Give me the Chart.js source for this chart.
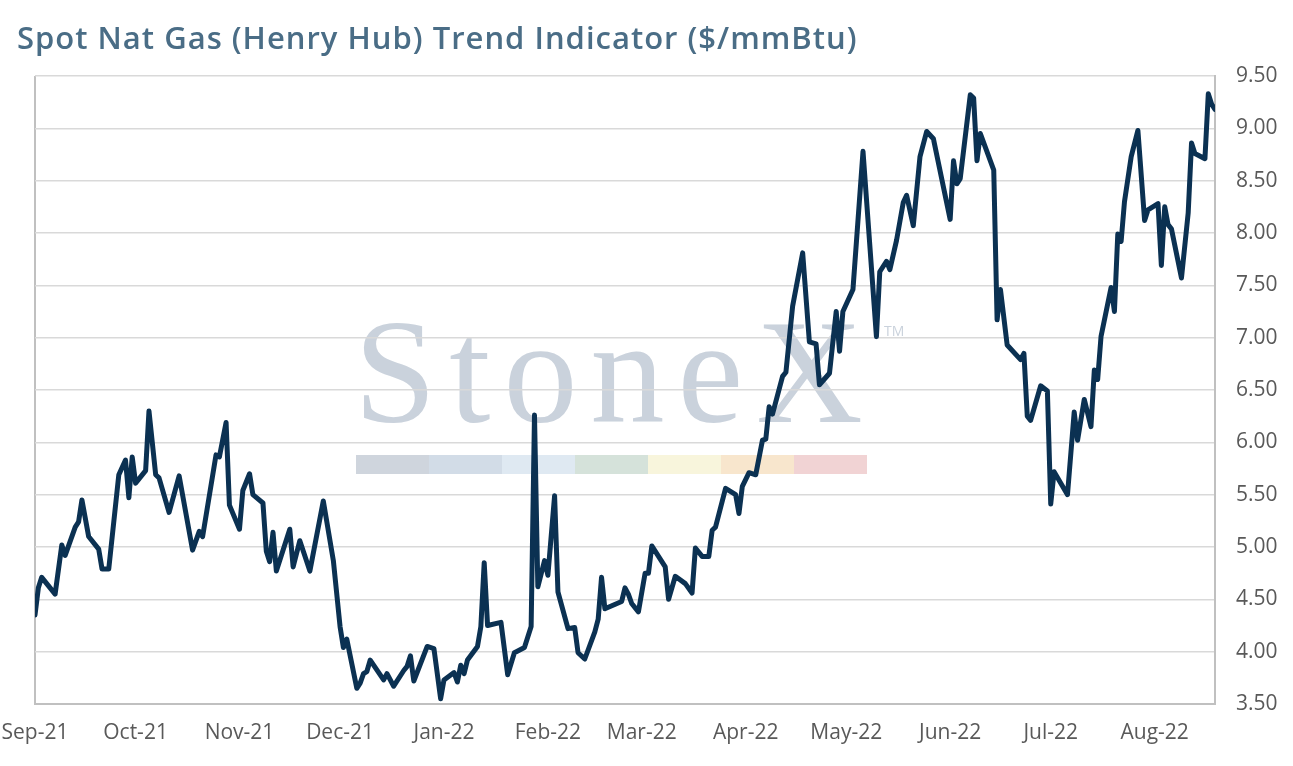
<!DOCTYPE html>
<html>
<head>
<meta charset="utf-8">
<title>Spot Nat Gas (Henry Hub) Trend Indicator</title>
<script src="https://cdn.jsdelivr.net/npm/chart.js@4.4.1/dist/chart.umd.min.js"></script>
<style>
    html, body { margin: 0; padding: 0; background: #fff; }
    #wrap { position: relative; width: 1293px; height: 766px; }
    #gasChart { position: absolute; left: 0; top: 0; }
    #title {
        position: absolute; left: 17px; top: 16px;
        font: 600 31px "Open Sans", sans-serif;
        letter-spacing: 1px; line-height: normal;
        color: #4a6d86; white-space: nowrap;
    }
</style>
</head>
<body>
<div id="wrap">
    <canvas id="gasChart" width="1293" height="766"></canvas>
    <div id="title">Spot Nat Gas (Henry Hub) Trend Indicator ($/mmBtu)</div>
</div>
<script>
// days counted from 1 Sep 2021
const days = [
    0, 1, 2, 6, 8, 9, 12, 13, 14, 16, 19, 20, 22, 25, 27, 28, 29, 30, 33, 34,
    36, 37, 40, 43, 47, 49, 50, 54, 55, 57, 58, 61, 62, 64, 65, 68, 69, 70, 71, 72,
    76, 77, 79, 82, 86, 89, 91, 92, 93, 96, 97, 98, 99, 100, 104, 105, 107, 110, 111, 112,
    113, 117, 119, 121, 122, 125, 126, 127, 128, 129, 132, 133, 134, 135, 139, 141, 143, 146, 148, 149,
    150, 152, 153, 155, 156, 159, 161, 162, 164, 167, 168, 169, 170, 175, 176, 177, 178, 180, 182, 183,
    184, 188, 189, 191, 194, 196, 197, 199, 201, 202, 203, 206, 209, 210, 211, 213, 215, 217, 218, 219,
    220, 223, 224, 226, 229, 231, 233, 234, 237, 239, 240, 241, 244, 247, 251, 252, 254, 255, 257, 259,
    260, 262, 264, 266, 268, 273, 274, 275, 276, 279, 280, 281, 282, 286, 287, 288, 290, 294, 295, 296,
    297, 300, 302, 303, 304, 308, 310, 311, 313, 315, 316, 317, 318, 321, 322, 323, 324, 325, 327, 329,
    331, 332, 335, 336, 337, 338, 339, 342, 344, 345, 346, 349, 350, 351, 352
];
const prices = [
    4.35, 4.61, 4.71, 4.55, 5.02, 4.92, 5.19, 5.24, 5.45, 5.10, 4.98, 4.79, 4.79, 5.69, 5.83, 5.47, 5.86, 5.61, 5.73, 6.30,
    5.69, 5.66, 5.33, 5.68, 4.97, 5.15, 5.10, 5.88, 5.86, 6.19, 5.40, 5.17, 5.54, 5.70, 5.50, 5.42, 4.96, 4.86, 5.14, 4.77,
    5.17, 4.81, 5.06, 4.77, 5.44, 4.87, 4.24, 4.04, 4.12, 3.65, 3.70, 3.79, 3.81, 3.92, 3.73, 3.79, 3.67, 3.82, 3.86, 3.96,
    3.72, 4.05, 4.03, 3.55, 3.73, 3.80, 3.71, 3.87, 3.79, 3.92, 4.05, 4.24, 4.85, 4.25, 4.28, 3.78, 3.99, 4.04, 4.24, 6.26,
    4.62, 4.87, 4.73, 5.49, 4.57, 4.22, 4.23, 3.99, 3.93, 4.19, 4.31, 4.71, 4.41, 4.48, 4.61, 4.55, 4.46, 4.38, 4.75, 4.75,
    5.01, 4.81, 4.50, 4.72, 4.65, 4.56, 4.99, 4.91, 4.91, 5.16, 5.19, 5.56, 5.50, 5.32, 5.58, 5.71, 5.69, 6.02, 6.03, 6.34,
    6.27, 6.63, 6.67, 7.30, 7.81, 6.96, 6.94, 6.55, 6.66, 7.25, 6.87, 7.25, 7.46, 8.78, 7.01, 7.63, 7.73, 7.65, 7.93, 8.29,
    8.36, 8.07, 8.73, 8.97, 8.90, 8.13, 8.69, 8.47, 8.52, 9.32, 9.29, 8.69, 8.95, 8.60, 7.17, 7.46, 6.93, 6.79, 6.85, 6.25,
    6.21, 6.54, 6.49, 5.41, 5.72, 5.50, 6.29, 6.02, 6.41, 6.15, 6.69, 6.60, 7.01, 7.48, 7.25, 7.99, 7.92, 8.30, 8.73, 8.98,
    8.12, 8.22, 8.28, 7.69, 8.25, 8.08, 8.04, 7.57, 8.19, 8.86, 8.76, 8.71, 9.33, 9.23, 9.18
];

const monthDays = [0, 30, 61, 91, 122, 153, 181, 212, 242, 273, 303, 334];
const monthLabels = ['Sep-21', 'Oct-21', 'Nov-21', 'Dec-21', 'Jan-22', 'Feb-22',
    'Mar-22', 'Apr-22', 'May-22', 'Jun-22', 'Jul-22', 'Aug-22'];

const bandColors = ['#cfd5dd', '#d2dce7', '#dfe9f2', '#d5e2da', '#f8f5dc', '#f8e6cd', '#f1d3d4'];

// faint logo behind the chart
const watermark = {
    id: 'watermark',
    beforeDraw(chart) {
        const { ctx } = chart;
        ctx.save();
        ctx.fillStyle = '#cad2dc';
        ctx.font = '148px "Liberation Serif", serif';
        ctx.letterSpacing = '13px';
        ctx.textBaseline = 'alphabetic';
        ctx.fillText('StoneX', 354, 422);
        ctx.letterSpacing = '0px';
        ctx.font = '14px "Open Sans", sans-serif';
        ctx.fillText('TM', 884, 336);
        bandColors.forEach((c, i) => {
            ctx.fillStyle = c;
            ctx.fillRect(356 + i * 73, 455, 73, 19);
        });
        ctx.restore();
    }
};

const points = days.map((d, i) => ({ x: d, y: prices[i] }));

new Chart(document.getElementById('gasChart'), {
    type: 'line',
    data: {
        datasets: [{
            data: points,
            borderColor: '#0b3152',
            borderWidth: 5,
            borderJoinStyle: 'round',
            borderCapStyle: 'round',
            pointRadius: 0,
            tension: 0,
            fill: false
        }]
    },
    options: {
        responsive: false,
        animation: false,
        devicePixelRatio: 1,
        layout: { padding: { top: 76, right: 16, bottom: 17, left: 35 } },
        plugins: {
            legend: { display: false },
            tooltip: { enabled: false }
        },
        scales: {
            x: {
                type: 'linear',
                min: 0,
                max: 352,
                afterBuildTicks: (scale) => {
                    scale.ticks = monthDays.map(v => ({ value: v }));
                },
                afterFit: (scale) => {
                    scale.height = 45;
                    scale.paddingLeft = 0;
                    scale.paddingRight = 0;
                },
                ticks: {
                    autoSkip: false,
                    maxRotation: 0,
                    padding: 16,
                    color: '#595959',
                    font: { family: '"Open Sans", sans-serif', size: 21 },
                    callback: (value) => monthLabels[monthDays.indexOf(value)]
                },
                grid: {
                    drawTicks: false,
                    lineWidth: 2,
                    color: (ctx) => (ctx.tick && ctx.tick.value === 0) ? '#c0c0c0' : 'rgba(0,0,0,0)'
                },
                border: { display: true, color: '#c0c0c0', width: 2 }
            },
            y: {
                position: 'right',
                min: 3.5,
                max: 9.5,
                afterFit: (scale) => {
                    scale.width = 62;
                    scale.paddingTop = 0;
                    scale.paddingBottom = 0;
                },
                ticks: {
                    stepSize: 0.5,
                    padding: 21,
                    color: '#595959',
                    font: { family: '"Open Sans", sans-serif', size: 21 },
                    callback: (value) => value.toFixed(2)
                },
                grid: {
                    drawTicks: false,
                    color: '#d9d9d9',
                    lineWidth: 1.5
                },
                border: { display: true, color: '#c0c0c0', width: 2 }
            }
        }
    },
    plugins: [watermark]
});
</script>
</body>
</html>
